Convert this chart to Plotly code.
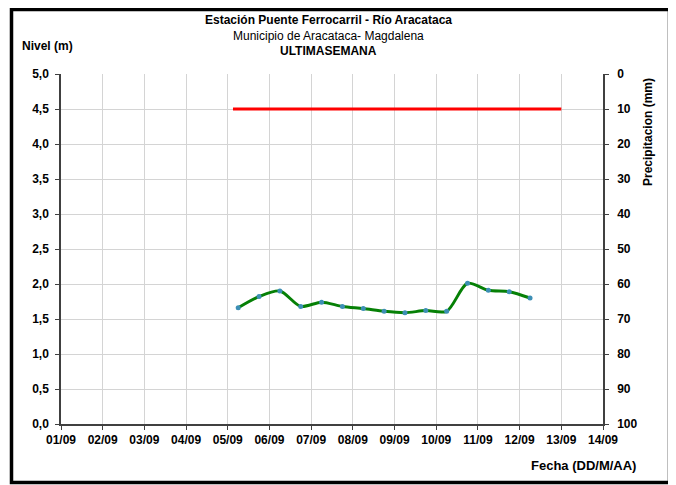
import plotly.graph_objects as go

# Nivel del rio (m), lecturas 06:00 y 18:00
nivel_fechas = [
    "2013-09-05 06:00", "2013-09-05 18:00", "2013-09-06 06:00", "2013-09-06 18:00",
    "2013-09-07 06:00", "2013-09-07 18:00", "2013-09-08 06:00", "2013-09-08 18:00",
    "2013-09-09 06:00", "2013-09-09 18:00", "2013-09-10 06:00", "2013-09-10 18:00",
    "2013-09-11 06:00", "2013-09-11 18:00", "2013-09-12 06:00",
]
nivel_valores = [1.66, 1.82, 1.90, 1.68, 1.74, 1.68, 1.65, 1.61, 1.59, 1.62, 1.61,
                 2.01, 1.91, 1.89, 1.80]

# Precipitacion (mm)
precip_fechas = ["2013-09-05 03:00", "2013-09-13 00:00"]
precip_valores = [10, 10]

x_rango = ["2013-09-01", "2013-09-14"]
nivel_ticks = [0, 0.5, 1, 1.5, 2, 2.5, 3, 3.5, 4, 4.5, 5]
precip_ticks = list(range(0, 101, 10))

FONT = "Liberation Sans, Arial, sans-serif"

# figure drawn at an 8px page offset, so size and pixel positions are shifted
W, H = 668, 477
L, R, T, B = 53, 73, 66, 61
PW, PH = W - L - R, H - T - B


def px(x):
    return (x - L) / PW


def py(y):
    return 1 - (y - T) / PH


fig = go.Figure()
fig.add_trace(go.Scatter(
    x=nivel_fechas, y=nivel_valores, mode="lines+markers",
    line=dict(color="#068006", width=3, shape="spline", smoothing=0.8),
    marker=dict(color="#3d8fb5", size=5),
    showlegend=False))
fig.add_trace(go.Scatter(
    x=precip_fechas, y=precip_valores, mode="lines", yaxis="y2",
    line=dict(color="#ff0000", width=3), showlegend=False))

axis_font = dict(family=FONT, size=12, color="#000000", weight="bold")

fig.update_layout(
    width=W, height=H,
    margin=dict(l=L, r=R, t=T, b=B),
    paper_bgcolor="white", plot_bgcolor="white",
    separators=",.",
    font=dict(family=FONT, size=12, color="#000000"),
    xaxis=dict(
        type="date", range=x_rango, dtick=86400000, tickformat="%d/%m",
        showgrid=True, gridcolor="#d4d4d4", gridwidth=1,
        showline=True, linecolor="#404040", linewidth=1.5,
        ticks="outside", ticklen=4, tickcolor="#404040",
        tickfont=axis_font, zeroline=False),
    yaxis=dict(
        range=[0, 5], tickvals=nivel_ticks, tickformat=".1f",
        showgrid=True, gridcolor="#d4d4d4", gridwidth=1,
        showline=True, linecolor="#404040", linewidth=1.5,
        ticks="outside", ticklen=4, tickcolor="#404040", ticklabelstandoff=4,
        tickfont=axis_font, zeroline=False),
    yaxis2=dict(
        overlaying="y", side="right", range=[100, 0], tickvals=precip_ticks,
        showgrid=False, showline=True, linecolor="#404040", linewidth=1.5,
        ticks="outside", ticklen=4, tickcolor="#404040", ticklabelstandoff=6,
        tickfont=axis_font, zeroline=False),
)

textos = [
    ("<b>Estación Puente Ferrocarril - Río Aracataca</b>", 320, 12, 12, 0),
    ("Municipio de Aracataca- Magdalena", 320, 28, 12, 0),
    ("<b>ULTIMASEMANA</b>", 320, 43, 12, 0),
    ("<b>Nivel (m)</b>", 39, 38, 12, 0),
    ("<b>Fecha (DD/M/AA)</b>", 575, 457, 13, 0),
    ("<b>Precipitacion (mm)</b>", 640, 124, 12, -90),
]
for texto, x, y, size, ang in textos:
    fig.add_annotation(text=texto, x=px(x), y=py(y), xref="paper", yref="paper",
                       xanchor="center", yanchor="middle", textangle=ang,
                       showarrow=False, font=dict(family=FONT, size=size))

# marco exterior
fig.add_shape(type="rect", xref="paper", yref="paper",
              x0=px(3.5), x1=px(661.5), y0=py(474.5), y1=py(1.5),
              line=dict(color="black", width=3.5))

fig.write_html("out.html")
